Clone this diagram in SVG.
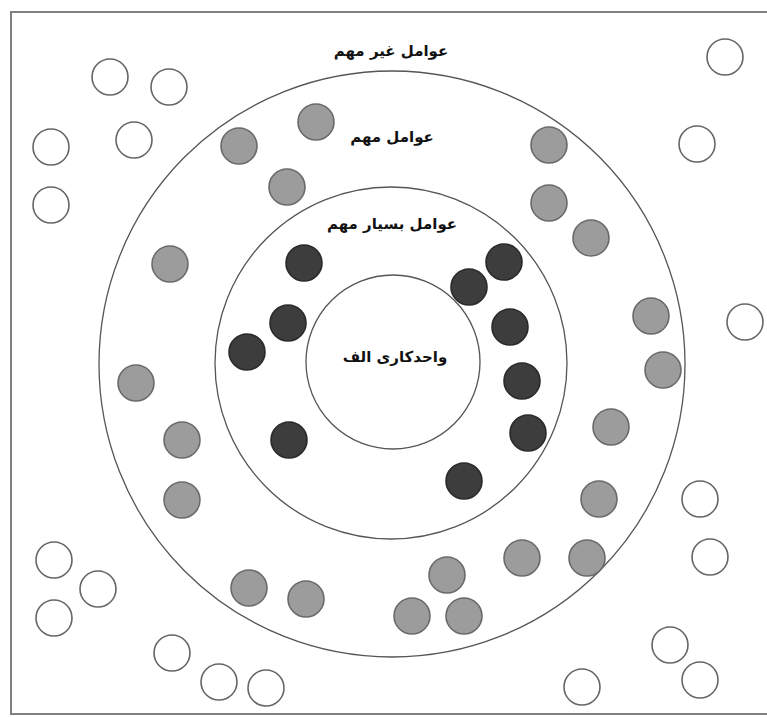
<svg xmlns="http://www.w3.org/2000/svg" width="767" height="717" viewBox="0 0 767 717">
<style>
.frame{fill:none;stroke:#808080;stroke-width:2}
.ring{fill:none;stroke:#555;stroke-width:1.3}
.w{fill:#fff;stroke:#666;stroke-width:1.6}
.g{fill:#9c9c9c;stroke:#6a6a6a;stroke-width:1.6}
.d{fill:#3d3d3d;stroke:#2a2a2a;stroke-width:1.6}
.lbl{font-family:"DejaVu Sans",sans-serif;font-weight:bold;font-size:15px;fill:#111;text-anchor:middle}
</style>
<rect width="767" height="717" fill="#fff"/>
<path class="frame" d="M767 12 H11 V714 H767"/>
<g id="rings">
<circle id="ring-outer" class="ring" cx="392" cy="364" r="293"/>
<circle id="ring-middle" class="ring" cx="391" cy="363" r="176"/>
<circle id="ring-inner" class="ring" cx="393" cy="362" r="87"/>
</g>
<g id="labels">
<text id="label-unimportant" class="lbl" x="391" y="56" direction="rtl">عوامل غیر مهم</text>
<text id="label-important" class="lbl" x="392" y="142" direction="rtl">عوامل مهم</text>
<text id="label-very-important" class="lbl" x="392" y="229" direction="rtl">عوامل بسیار مهم</text>
<text id="label-unit" class="lbl" x="395" y="362" direction="rtl">واحدکاری الف</text>
</g>
<g id="unimportant-factors">
<circle class="w" cx="110" cy="77" r="18"/>
<circle class="w" cx="169" cy="87" r="18"/>
<circle class="w" cx="725" cy="57" r="18"/>
<circle class="w" cx="51" cy="147" r="18"/>
<circle class="w" cx="134" cy="140" r="18"/>
<circle class="w" cx="51" cy="205" r="18"/>
<circle class="w" cx="697" cy="144" r="18"/>
<circle class="w" cx="745" cy="322" r="18"/>
<circle class="w" cx="700" cy="499" r="18"/>
<circle class="w" cx="54" cy="560" r="18"/>
<circle class="w" cx="710" cy="557" r="18"/>
<circle class="w" cx="98" cy="589" r="18"/>
<circle class="w" cx="54" cy="618" r="18"/>
<circle class="w" cx="172" cy="653" r="18"/>
<circle class="w" cx="670" cy="645" r="18"/>
<circle class="w" cx="219" cy="682" r="18"/>
<circle class="w" cx="266" cy="688" r="18"/>
<circle class="w" cx="582" cy="687" r="18"/>
<circle class="w" cx="700" cy="680" r="18"/>
</g>
<g id="important-factors">
<circle class="g" cx="316" cy="122" r="18"/>
<circle class="g" cx="239" cy="146" r="18"/>
<circle class="g" cx="287" cy="187" r="18"/>
<circle class="g" cx="549" cy="145" r="18"/>
<circle class="g" cx="549" cy="203" r="18"/>
<circle class="g" cx="591" cy="238" r="18"/>
<circle class="g" cx="170" cy="264" r="18"/>
<circle class="g" cx="651" cy="316" r="18"/>
<circle class="g" cx="663" cy="370" r="18"/>
<circle class="g" cx="136" cy="383" r="18"/>
<circle class="g" cx="611" cy="427" r="18"/>
<circle class="g" cx="182" cy="440" r="18"/>
<circle class="g" cx="182" cy="500" r="18"/>
<circle class="g" cx="599" cy="499" r="18"/>
<circle class="g" cx="522" cy="558" r="18"/>
<circle class="g" cx="587" cy="558" r="18"/>
<circle class="g" cx="447" cy="575" r="18"/>
<circle class="g" cx="249" cy="588" r="18"/>
<circle class="g" cx="306" cy="599" r="18"/>
<circle class="g" cx="412" cy="616" r="18"/>
<circle class="g" cx="464" cy="616" r="18"/>
</g>
<g id="very-important-factors">
<circle class="d" cx="304" cy="263" r="18"/>
<circle class="d" cx="504" cy="262" r="18"/>
<circle class="d" cx="469" cy="287" r="18"/>
<circle class="d" cx="288" cy="323" r="18"/>
<circle class="d" cx="510" cy="327" r="18"/>
<circle class="d" cx="247" cy="352" r="18"/>
<circle class="d" cx="522" cy="381" r="18"/>
<circle class="d" cx="528" cy="433" r="18"/>
<circle class="d" cx="289" cy="440" r="18"/>
<circle class="d" cx="464" cy="481" r="18"/>
</g>
</svg>
